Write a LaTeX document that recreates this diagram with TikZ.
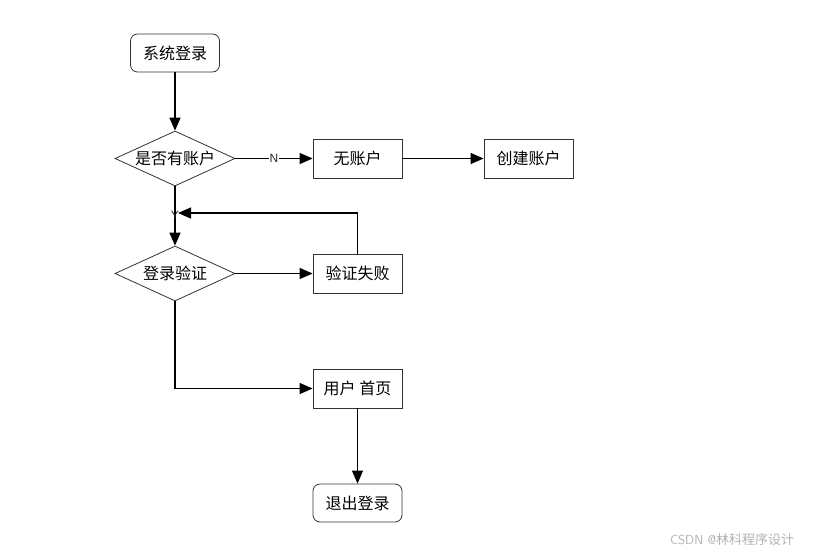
\documentclass[tikz,border=0pt]{standalone}
\usepackage{fontspec}
\setmainfont{Liberation Sans}
\newfontfamily\cjk{Noto Sans CJK SC}
\usetikzlibrary{arrows.meta,shapes.geometric}
\begin{document}
\begin{tikzpicture}[x=1pt,y=-1pt,
  base/.style={draw=black!80,line width=0.8pt,font=\cjk\fontsize{16}{16}\selectfont,inner sep=0pt},
  rbox/.style={base,rounded corners=7pt,minimum width=89pt,minimum height=38pt},
  sbox/.style={base,minimum width=89pt,minimum height=39pt},
  dia/.style={base,diamond,aspect=2.2,minimum width=120pt,minimum height=55pt},
  conn/.style={line width=1.3pt,-{Triangle[length=13pt,width=11pt]}},
  lbl/.style={font=\fontsize{12}{12}\selectfont,text=black!85,fill=white,inner sep=0.5pt}]
\useasboundingbox (0,0) rectangle (817,555);
\node[rbox] (start) at (175,53) {系统登录};
\node[dia] (d1) at (175,158.5) {是否有账户};
\node[sbox] (noacc) at (357.5,158.5) {无账户};
\node[sbox] (create) at (528.5,158.5) {创建账户};
\node[dia] (d2) at (175,273.5) {登录验证};
\node[sbox] (fail) at (357.5,273.5) {验证失败};
\node[sbox] (home) at (357.5,388.5) {用户 首页};
\node[rbox] (logout) at (357.5,503) {退出登录};
\coordinate (ymark) at (178,213);
\coordinate (corner) at (175,388.5);
\draw[conn] (start) -- (d1);
\draw[conn] (d1) -- node[lbl,pos=0.5] {N} (noacc);
\draw[conn] (noacc) -- (create);
\draw[conn] (d1) -- (d2);
\draw[conn] (fail.north) |- (ymark);
\draw[conn] (d2) -- (fail);
\draw[conn] (d2.south) -- (corner) -- (home);
\draw[conn] (home) -- (logout);
\node[lbl,fill=none] (ylab) at (175,215) {Y};
\node[font=\sffamily\fontsize{13}{13}\selectfont,text=black!30] (wm) at (732,540) {CSDN @{\cjk 林科程序设计}};
\end{tikzpicture}
\end{document}
